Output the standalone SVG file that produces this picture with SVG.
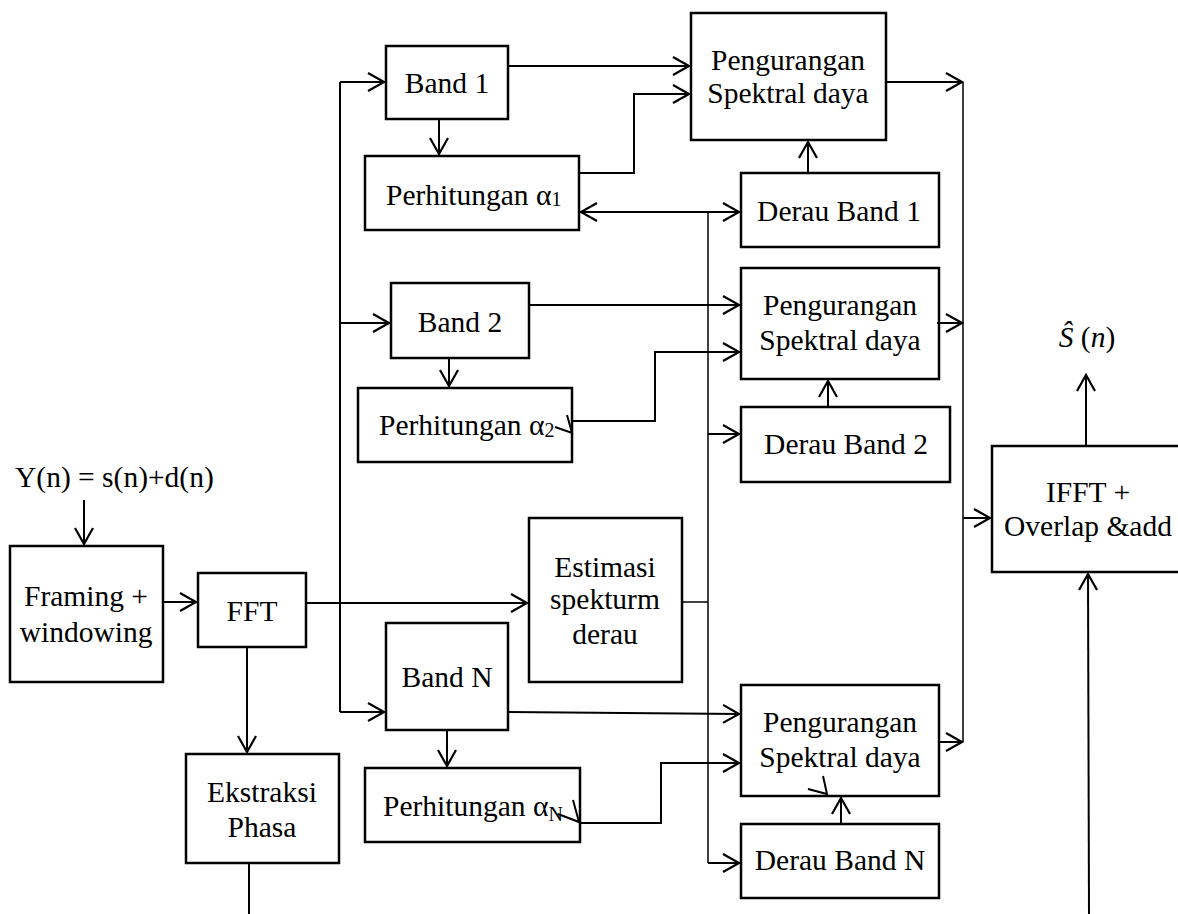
<svg xmlns="http://www.w3.org/2000/svg" width="1178" height="914" viewBox="0 0 1178 914">
<style>
  .box { fill: #fff; stroke: #000; stroke-width: 2.5; }
  .t { font-family: "Liberation Serif", "Times New Roman", serif; font-size: 29.5px; fill: #000; text-anchor: middle; }
  .ts { font-family: "Liberation Serif", "Times New Roman", serif; font-size: 29.5px; fill: #000; }
  .c { fill: none; stroke: #000; stroke-width: 2; }
  .thin { fill: none; stroke: #000; stroke-width: 1.5; }
  .a { marker-end: url(#arr); }
</style>
<defs>
  <marker id="arr" markerUnits="userSpaceOnUse" markerWidth="22" markerHeight="22" viewBox="-19 -11 22 22" refX="0" refY="0" orient="auto-start-reverse">
    <path d="M-16,-9 L0,0 L-16,9" fill="none" stroke="#000" stroke-width="2.2"/>
  </marker>
</defs>
<rect width="1178" height="914" fill="#fff"/>

<g id="yn"><text class="ts" x="15" y="487">Y(n) = s(n)+d(n)</text></g>
<g id="framing"><rect class="box" x="10" y="546" width="153" height="136"/><text class="t" x="86" y="606">Framing +</text><text class="t" x="86" y="642">windowing</text></g>
<g id="fft"><rect class="box" x="198" y="573" width="108" height="74"/><text class="t" x="252" y="621">FFT</text></g>
<g id="ekstraksi"><rect class="box" x="186" y="754" width="153" height="109"/><text class="t" x="262" y="802">Ekstraksi</text><text class="t" x="262" y="837">Phasa</text></g>
<g id="band1"><rect class="box" x="386" y="46" width="122" height="73"/><text class="t" x="447" y="93">Band 1</text></g>
<g id="alpha1"><rect class="box" x="365" y="156" width="214" height="74"/><text class="ts" x="386" y="205">Perhitungan α<tspan font-size="20" dy="1">1</tspan></text></g>
<g id="peng1"><rect class="box" x="691" y="13" width="195" height="127"/><text class="t" x="788" y="70">Pengurangan</text><text class="t" x="788" y="103">Spektral daya</text></g>
<g id="derau1"><rect class="box" x="741" y="173" width="198" height="74"/><text class="t" x="839" y="221">Derau Band 1</text></g>
<g id="band2"><rect class="box" x="391" y="283" width="138" height="75"/><text class="t" x="460" y="332">Band 2</text></g>
<g id="alpha2"><rect class="box" x="358" y="388" width="214" height="74"/><text class="ts" x="379" y="435">Perhitungan α<tspan font-size="20" dy="2">2</tspan></text></g>
<g id="peng2"><rect class="box" x="741" y="268" width="198" height="111"/><text class="t" x="840" y="315">Pengurangan</text><text class="t" x="840" y="350">Spektral daya</text></g>
<g id="derau2"><rect class="box" x="741" y="407" width="209" height="75"/><text class="t" x="846" y="454">Derau Band 2</text></g>
<g id="estimasi"><rect class="box" x="529" y="518" width="153" height="164"/><text class="t" x="605" y="577">Estimasi</text><text class="t" x="605" y="609">spekturm</text><text class="t" x="605" y="644">derau</text></g>
<g id="bandN"><rect class="box" x="386" y="623" width="122" height="107"/><text class="t" x="447" y="687">Band N</text></g>
<g id="alphaN"><rect class="box" x="365" y="768" width="215" height="74"/><text class="ts" x="383" y="816">Perhitungan α<tspan font-size="20" dy="5">N</tspan></text></g>
<g id="pengN"><rect class="box" x="741" y="685" width="198" height="111"/><text class="t" x="840" y="732">Pengurangan</text><text class="t" x="840" y="767">Spektral daya</text></g>
<g id="derauN"><rect class="box" x="741" y="824" width="198" height="74"/><text class="t" x="840" y="870">Derau Band N</text></g>
<g id="ifft"><rect class="box" x="992" y="446" width="200" height="126"/><text class="t" x="1088" y="502">IFFT +</text><text class="t" x="1088" y="536">Overlap &amp;add</text></g>
<g id="shat"><text class="t" x="1087" y="347"><tspan font-style="italic">Ŝ</tspan> (<tspan font-style="italic">n</tspan>)</text></g>

<g id="connectors">
  <path class="c a" d="M84,500 V544"/>
  <path class="c a" d="M163,602 H196"/>
  <path class="c a" d="M306,603 H527"/>
  <path class="c a" d="M247,647 V752"/>
  <path class="c" d="M249,864 V914"/>
  <path class="c" d="M340,82 V712"/>
  <path class="c a" d="M340,82 H384"/>
  <path class="c a" d="M340,323 H389"/>
  <path class="c a" d="M340,712 H384"/>
  <path class="c a" d="M439,120 V154"/>
  <path class="c a" d="M509,66 H689"/>
  <path class="c a" d="M580,173 H634 V94 H689"/>
  <path class="c a" d="M581,212 H739" marker-start="url(#arr)"/>
  <path class="thin" d="M683,602 H708"/>
  <path class="thin" d="M708,212 V863"/>
  <path class="c a" d="M708,434 H739"/>
  <path class="c a" d="M708,863 H739"/>
  <path class="c a" d="M808,172 V142"/>
  <path class="c a" d="M887,82 H962"/>
  <path class="thin" d="M963,82 V742"/>
  <path class="c a" d="M530,305 H739"/>
  <path class="c a" d="M449,359 V386"/>
  <path class="c a" d="M573,421 H655 V352 H739"/>
  <path class="c a" d="M828,406 V381"/>
  <path class="c a" d="M937,323 H962"/>
  <path class="c a" d="M509,712 L739,714"/>
  <path class="c a" d="M447,731 V766"/>
  <path class="c a" d="M581,823 H661 V763 H739"/>
  <path class="c a" d="M841,823 V798"/>
  <path class="c a" d="M940,742 H962"/>
  <path class="c a" d="M963,518 H990"/>
  <path class="c a" d="M1086,445 V375"/>
  <path class="c a" d="M1089,914 L1088,574"/>
  <path class="c" d="M555,427 L572,433 L567,415"/>
  <path class="c" d="M558,814 L579,822 L573,800"/>
  <path class="c" d="M808,789 L827,794 L823,776"/>
</g>
</svg>
